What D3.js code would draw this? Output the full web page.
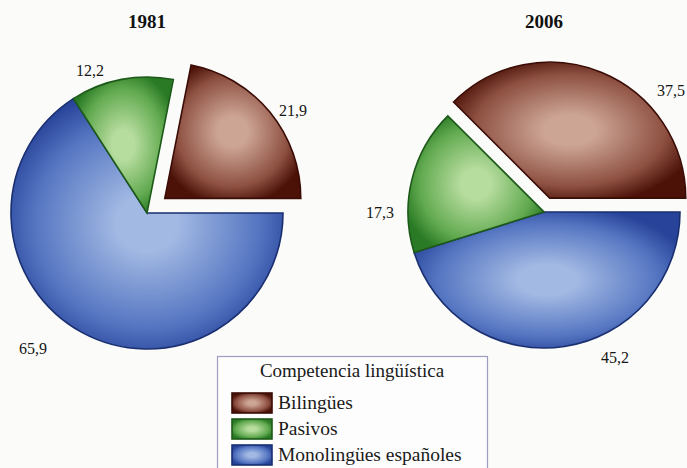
<!DOCTYPE html>
<html>
<head>
<meta charset="utf-8">
<script src="https://cdn.jsdelivr.net/npm/d3@7/dist/d3.min.js"></script>
<style>
  html, body { margin: 0; padding: 0; background: #fbfbf9; }
  svg { display: block; }
</style>
</head>
<body>
<svg id="chart" width="687" height="468"></svg>
<script>
// ---- data ----
const categories = ["Bilingües", "Pasivos", "Monolingües españoles"];
const years = ["1981", "2006"];
const values1981 = [21.9, 12.2, 65.9];
const values2006 = [37.5, 17.3, 45.2];
const valueLabels1981 = ["21,9", "12,2", "65,9"];
const valueLabels2006 = ["37,5", "17,3", "45,2"];
const legendTitle = "Competencia lingüística";

// ---- styling / layout ----
const FONT = "Liberation Serif";
const palette = [
  { light: "#cda595", mid: "#8e5142", dark: "#4c1208", stroke: "#3a0c05" },
  { light: "#b6dc9e", mid: "#62aa50", dark: "#2a7a25", stroke: "#1d5a19" },
  { light: "#a2b9e3", mid: "#5676c2", dark: "#28449a", stroke: "#1a2f70" }
];
const pies = [
  { cx: 147, cy: 213, r: 136, explode: 23, values: values1981, labels: valueLabels1981,
    labelPos: [[146, -103], [-57, -143], [-114, 135]], anchors: ["middle", "middle", "middle"] },
  { cx: 544, cy: 212, r: 136, explode: 15, values: values2006, labels: valueLabels2006,
    labelPos: [[141, -122], [-164, 0], [71, 145]], anchors: ["end", "middle", "middle"] }
];

const svg = d3.select("#chart");
const defs = svg.append("defs");
palette.forEach((p, i) => {
  const g = defs.append("radialGradient").attr("id", "grad" + i)
    .attr("cx", "50%").attr("cy", "50%").attr("r", "62%");
  g.append("stop").attr("offset", "0%").attr("stop-color", p.light);
  g.append("stop").attr("offset", "18%").attr("stop-color", p.light);
  g.append("stop").attr("offset", "66%").attr("stop-color", p.mid);
  g.append("stop").attr("offset", "90%").attr("stop-color", p.dark);
});

pies.forEach((pc, k) => {
  const total = d3.sum(pc.values);
  const toAngle = d3.scaleLinear().domain([0, total]).range([0, 2 * Math.PI]);
  // clockwise starting at 3 o'clock: Monolingües, Pasivos, Bilingües
  const order = [2, 1, 0];
  let start = Math.PI / 2;
  const slices = [];
  order.forEach(idx => {
    const a = toAngle(pc.values[idx]);
    slices.push({ idx, startAngle: start, endAngle: start + a });
    start += a;
  });
  const arc = d3.arc().innerRadius(0).outerRadius(pc.r);
  const g = svg.append("g").attr("transform", `translate(${pc.cx},${pc.cy})`);
  g.selectAll("path").data(slices).enter().append("path")
    .attr("d", arc)
    .attr("transform", d => {
      if (d.idx !== 0) return null;
      const m = (d.startAngle + d.endAngle) / 2;
      return `translate(${pc.explode * Math.sin(m)},${-pc.explode * Math.cos(m)})`;
    })
    .attr("fill", d => `url(#grad${d.idx})`)
    .attr("stroke", d => palette[d.idx].stroke)
    .attr("stroke-width", 1.6)
    .attr("stroke-linejoin", "miter");

  g.selectAll("text.val").data(pc.labels).enter().append("text")
    .attr("class", "val")
    .attr("x", (d, i) => pc.labelPos[i][0])
    .attr("y", (d, i) => pc.labelPos[i][1])
    .attr("text-anchor", (d, i) => pc.anchors[i])
    .attr("dominant-baseline", "central")
    .attr("font-family", FONT)
    .attr("font-size", 16)
    .attr("fill", "#151515")
    .text(d => d);

  svg.append("text")
    .attr("x", pc.cx).attr("y", 28)
    .attr("text-anchor", "middle")
    .attr("font-family", FONT)
    .attr("font-size", 19).attr("font-weight", "bold")
    .attr("fill", "#111")
    .text(years[k]);
});

// legend
const lg = svg.append("g");
lg.append("rect").attr("x", 217.5).attr("y", 356.5).attr("width", 270).attr("height", 120)
  .attr("fill", "#fdfdfd").attr("stroke", "#9d9dc4").attr("stroke-width", 1.2);
lg.append("text").attr("x", 352).attr("y", 377).attr("text-anchor", "middle")
  .attr("font-family", FONT).attr("fill", "#1a1a1a")
  .attr("font-size", 19).text(legendTitle);
const items = lg.selectAll("g.item").data(categories).enter().append("g")
  .attr("transform", (d, i) => `translate(232,${393 + i * 26})`);
items.append("rect").attr("width", 40).attr("height", 20)
  .attr("fill", (d, i) => `url(#grad${i})`)
  .attr("stroke", (d, i) => palette[i].stroke).attr("stroke-width", 1.6);
items.append("text").attr("x", 46).attr("y", 16)
  .attr("font-family", FONT).attr("fill", "#1a1a1a")
  .attr("font-size", 19.5).text(d => d);
</script>
</body>
</html>
